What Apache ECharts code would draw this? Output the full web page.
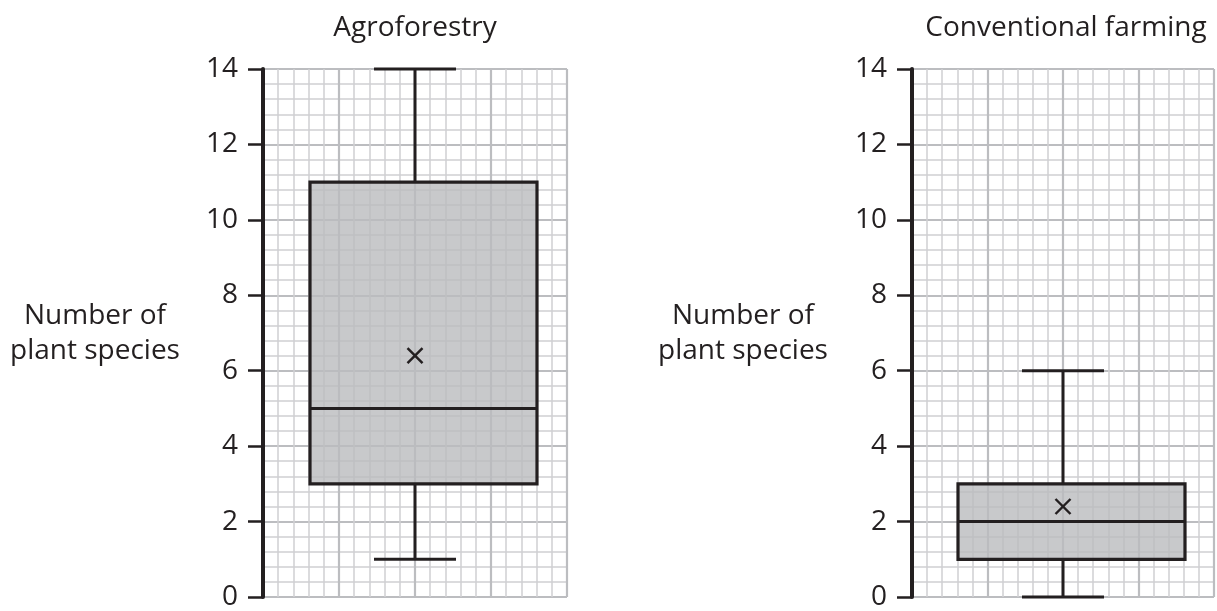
<!DOCTYPE html>
<html>
<head>
<meta charset="utf-8">
<title>Number of plant species</title>
<script src="https://cdn.jsdelivr.net/npm/echarts@6/dist/echarts.min.js"></script>
<style>
html, body { margin: 0; padding: 0; background: #fff; }
#chart { width: 1217px; height: 611px; }
</style>
</head>
<body>
<div id="chart"></div>
<script>
// data
const categories = ['Agroforestry', 'Conventional farming'];
const minValues = [1, 0];
const q1Values = [3, 1];
const medianValues = [5, 2];
const q3Values = [11, 3];
const maxValues = [14, 6];
const meanValues = [6.4, 2.4];
const yTicks = [0, 2, 4, 6, 8, 10, 12, 14];
const yName = 'Number of\nplant species';

const textColor = '#231f20';
const fontFamily = "'Open Sans', sans-serif";
const xMin = 0, xMax = 8;

const grids = [
  { left: 263, top: 69, width: 304, height: 529 },
  { left: 912, top: 69, width: 302, height: 529 }
];

const renderBox = (params, api) => {
  const cx = api.value(0);
  const pMin = api.coord([cx, api.value(1)]);
  const pQ1 = api.coord([cx, api.value(2)]);
  const pMed = api.coord([cx, api.value(3)]);
  const pQ3 = api.coord([cx, api.value(4)]);
  const pMax = api.coord([cx, api.value(5)]);
  const pMean = api.coord([cx, api.value(6)]);
  const x = pMed[0];
  const boxL = x - 105, boxR = x + 122, cap = 41, m = 7.5;
  const line = { stroke: textColor, lineWidth: 3 };
  const cross = { stroke: textColor, lineWidth: 2.4 };
  return {
    type: 'group',
    children: [
      { type: 'line', shape: { x1: x, y1: pQ3[1], x2: x, y2: pMax[1] }, style: line },
      { type: 'line', shape: { x1: x, y1: pMin[1], x2: x, y2: pQ1[1] }, style: line },
      { type: 'line', shape: { x1: x - cap, y1: pMax[1], x2: x + cap, y2: pMax[1] }, style: line },
      { type: 'line', shape: { x1: x - cap, y1: pMin[1], x2: x + cap, y2: pMin[1] }, style: line },
      {
        type: 'rect',
        shape: { x: boxL, y: pQ3[1], width: boxR - boxL, height: pQ1[1] - pQ3[1] },
        style: { fill: 'rgba(186,187,190,0.8)', stroke: textColor, lineWidth: 3.2 }
      },
      { type: 'line', shape: { x1: boxL, y1: pMed[1], x2: boxR, y2: pMed[1] }, style: line },
      { type: 'line', shape: { x1: pMean[0] - m, y1: pMean[1] - m, x2: pMean[0] + m, y2: pMean[1] + m }, style: cross },
      { type: 'line', shape: { x1: pMean[0] - m, y1: pMean[1] + m, x2: pMean[0] + m, y2: pMean[1] - m }, style: cross }
    ]
  };
};

const chart = echarts.init(document.getElementById('chart'));

chart.setOption({
  animation: false,
  backgroundColor: '#fff',
  textStyle: { fontFamily: fontFamily, color: textColor },
  grid: grids,
  xAxis: grids.map((g, i) => ({
    type: 'value',
    gridIndex: i,
    min: xMin,
    max: xMax,
    interval: 2,
    axisLine: { show: false },
    axisTick: { show: false },
    axisLabel: { show: false },
    splitLine: { show: true, lineStyle: { color: '#bcbdc0', width: 2.2 } },
    minorTick: { show: false, splitNumber: 5 },
    minorSplitLine: { show: true, lineStyle: { color: '#cfd0d2', width: 1.5 } }
  })),
  yAxis: grids.map((g, i) => ({
    type: 'value',
    gridIndex: i,
    min: yTicks[0],
    max: yTicks[yTicks.length - 1],
    interval: yTicks[1] - yTicks[0],
    axisLine: { show: true, onZero: false, lineStyle: { color: textColor, width: 4 } },
    axisTick: { show: true, length: 15, lineStyle: { color: textColor, width: 2.5 } },
    axisLabel: { margin: 25, fontSize: 28, color: textColor, fontFamily: fontFamily },
    splitLine: { show: true, lineStyle: { color: '#bcbdc0', width: 2.2 } },
    minorTick: { show: false, splitNumber: 5 },
    minorSplitLine: { show: true, lineStyle: { color: '#cfd0d2', width: 1.5 } }
  })),
  graphic: [
    { type: 'text', x: 415, y: 28, style: { text: categories[0], font: '28px ' + fontFamily, fill: textColor, align: 'center', verticalAlign: 'middle', textAlign: 'center', textVerticalAlign: 'middle' } },
    { type: 'text', x: 1066, y: 28, style: { text: categories[1], font: '28px ' + fontFamily, fill: textColor, align: 'center', verticalAlign: 'middle', textAlign: 'center', textVerticalAlign: 'middle' } },
    { type: 'text', x: 95, y: 334, style: { text: yName, font: '28px ' + fontFamily, lineHeight: 35, fill: textColor, align: 'center', verticalAlign: 'middle', textAlign: 'center', textVerticalAlign: 'middle' } },
    { type: 'text', x: 743, y: 334, style: { text: yName, font: '28px ' + fontFamily, lineHeight: 35, fill: textColor, align: 'center', verticalAlign: 'middle', textAlign: 'center', textVerticalAlign: 'middle' } }
  ],
  series: categories.map((name, i) => ({
    type: 'custom',
    name: name,
    xAxisIndex: i,
    yAxisIndex: i,
    z: 5,
    renderItem: renderBox,
    encode: { x: 0, y: [1, 2, 3, 4, 5, 6] },
    data: [[(xMin + xMax) / 2, minValues[i], q1Values[i], medianValues[i], q3Values[i], maxValues[i], meanValues[i]]]
  }))
});

window.addEventListener('resize', () => {
  chart.resize();
});
</script>
</body>
</html>
